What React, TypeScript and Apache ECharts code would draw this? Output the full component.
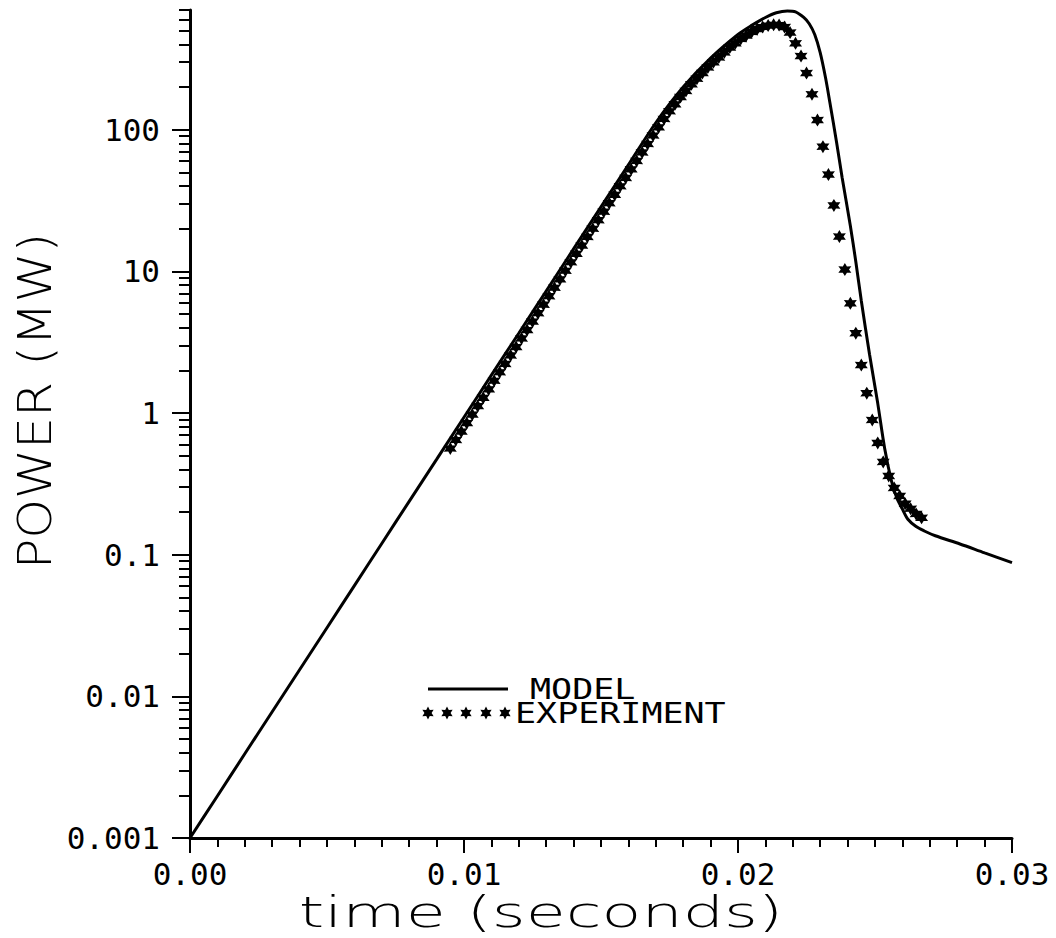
import React, { useEffect, useRef } from "react";
import * as echarts from "echarts";

// ---- data ----
const modelTime = [
  0, 0.001, 0.002, 0.003, 0.004, 0.005, 0.006, 0.007, 0.008, 0.009, 0.01, 0.011, 0.012, 0.013, 0.014,
  0.015, 0.016, 0.017, 0.018, 0.019, 0.02, 0.0205, 0.021, 0.0214, 0.0218, 0.0221, 0.0224, 0.0226,
  0.0228, 0.023, 0.0232, 0.02335, 0.0236, 0.0238, 0.0241, 0.0243, 0.0245, 0.0248, 0.0251, 0.02535,
  0.0256, 0.0258, 0.026, 0.0262, 0.0265, 0.0268, 0.0272, 0.0281, 0.029, 0.03,
];
const modelPower = [
  0.001, 0.00198, 0.00393, 0.00778, 0.0154, 0.0305, 0.0605, 0.12, 0.238, 0.471, 0.933, 1.85, 3.66,
  7.26, 14.4, 28.5, 56.5, 112, 200, 320, 470, 545, 620, 670, 690, 680, 620, 560, 470, 350, 230, 157,
  81, 46, 21, 11.7, 6.2, 2.6, 1.17, 0.567, 0.332, 0.25, 0.21, 0.178, 0.158, 0.147, 0.136, 0.119,
  0.103, 0.088,
];

const expTime = [
  0.0095, 0.0097, 0.0099, 0.0101, 0.0103, 0.0105, 0.0107, 0.0109, 0.0111, 0.0113, 0.0115, 0.0117,
  0.0119, 0.0121, 0.0123, 0.0125, 0.0127, 0.0129, 0.0131, 0.0133, 0.0135, 0.0137, 0.0139, 0.0141,
  0.0143, 0.0145, 0.0147, 0.0149, 0.0151, 0.0153, 0.0155, 0.0157, 0.0159, 0.0161, 0.0163, 0.0165,
  0.0167, 0.0169, 0.0171, 0.0173, 0.0175, 0.0177, 0.0179, 0.0181, 0.0183, 0.0185, 0.0187, 0.0189,
  0.0191, 0.0193, 0.0195, 0.0197, 0.0199, 0.0201, 0.0203, 0.0205, 0.0207, 0.0209, 0.0211, 0.0213,
  0.0215, 0.0217, 0.0219, 0.0221, 0.0223, 0.0225, 0.0227, 0.0229, 0.0231, 0.0233, 0.0235, 0.0237,
  0.0239, 0.0241, 0.0243, 0.0245, 0.0247, 0.0249, 0.0251, 0.0253, 0.0255, 0.0257, 0.0259, 0.0261,
  0.0263, 0.0265, 0.0267,
];
const expPower = [
  0.562, 0.645, 0.74, 0.849, 0.975, 1.12, 1.28, 1.47, 1.69, 1.94,
  2.22, 2.55, 2.92, 3.36, 3.85, 4.42, 5.07, 5.82, 6.68, 7.66,
  8.79, 10.1, 11.6, 13.3, 15.2, 17.5, 20.0, 23.0, 26.4, 30.3,
  34.7, 39.9, 45.7, 52.5, 60.2, 69.1, 79.3, 91.0, 104, 119,
  135, 151, 170, 188, 209, 229, 251, 275, 299, 324,
  351, 380, 407, 437, 462, 490, 513, 531, 543, 550,
  548, 530, 485, 407, 331, 251, 178, 117, 75.9, 48.2,
  29.2, 17.6, 10.3, 5.95, 3.66, 2.18, 1.38, 0.893, 0.615, 0.452,
  0.36, 0.296, 0.26, 0.229, 0.211, 0.194, 0.182,
];

const xTickLabels = ["0.00", "0.01", "0.02", "0.03"];
const yMajorTicks = [0.001, 0.01, 0.1, 1, 10, 100];
const yTickLabels = ["0.001", "0.01", "0.1", "1", "10", "100"];
const yMinorTicks: number[] = [];
for (const dec of yMajorTicks) {
  for (let d = 2; d <= 9; d++) {
    const v = Number((d * dec).toPrecision(3));
    if (v <= 700) yMinorTicks.push(v);
  }
}

const STAR =
  "path://M10 0 L12.75 5.24 L18.66 5 L15.5 10 L18.66 15 L12.75 14.76 L10 20 L7.25 14.76 L1.34 15 L4.5 10 L1.34 5 L7.25 5.24 Z";

function starPoints(cx: number, cy: number, r: number) {
  const pts: number[][] = [];
  for (let i = 0; i < 12; i++) {
    const a = -Math.PI / 2 + (i * Math.PI) / 6;
    const rr = i % 2 === 0 ? r : r * 0.55;
    pts.push([cx + rr * Math.cos(a), cy + rr * Math.sin(a)]);
  }
  return pts;
}

const MONO = '"DejaVu Sans Mono", monospace';

export default function App() {
  const ref = useRef<HTMLDivElement>(null);
  useEffect(() => {
    if (!ref.current) return;
    const chart = echarts.init(ref.current, undefined, { renderer: "svg" });
    const legendStars = [428, 447, 466, 486, 505].map((cx) => ({
      type: "polygon",
      shape: { points: starPoints(cx, 713, 6.5) },
      style: { fill: "#000" },
    }));
    const option: any = {
      animation: false,
      backgroundColor: "#fff",
      grid: { left: 190, right: 44, top: 10, bottom: 100, outerBoundsMode: "none", containLabel: false },
      xAxis: {
        type: "value",
        min: 0,
        max: 0.03,
        interval: 0.01,
        axisLine: { show: true, lineStyle: { color: "#000", width: 3 } },
        axisTick: { show: true, inside: false, length: 15, lineStyle: { color: "#000", width: 2 } },
        minorTick: { show: true, splitNumber: 10, length: 9, lineStyle: { color: "#000", width: 2 } },
        splitLine: { show: false },
        minorSplitLine: { show: false },
        axisLabel: {
          margin: 20,
          color: "#000",
          fontFamily: MONO,
          fontSize: 31,
          formatter: (v: number) => xTickLabels[Math.round(v / 0.01)] ?? v.toFixed(2),
        },
      },
      yAxis: [
        {
          type: "log",
          logBase: 10,
          min: 0.001,
          max: 700,
          position: "left",
          axisLine: { show: true, lineStyle: { color: "#000", width: 3 } },
          axisTick: { show: true, inside: false, length: 18, customValues: yMajorTicks, lineStyle: { color: "#000", width: 2 } },
          splitLine: { show: false },
          axisLabel: {
            customValues: yMajorTicks,
            margin: 30,
            color: "#000",
            fontFamily: MONO,
            fontSize: 31,
            formatter: (v: number) => {
              const i = yMajorTicks.findIndex((t) => Math.abs(Math.log10(t) - Math.log10(v)) < 1e-6);
              return i >= 0 ? yTickLabels[i] : "";
            },
          },
        },
        {
          type: "log",
          logBase: 10,
          min: 0.001,
          max: 700,
          position: "left",
          axisLine: { show: false },
          axisTick: { show: true, inside: false, length: 11, customValues: yMinorTicks, lineStyle: { color: "#000", width: 2 } },
          axisLabel: { show: false },
          splitLine: { show: false },
        },
      ],
      series: [
        {
          name: "EXPERIMENT",
          type: "scatter",
          symbol: STAR,
          symbolSize: 13,
          itemStyle: { color: "#000", opacity: 1 },
          data: expTime.map((t, i) => [t, expPower[i]]),
          z: 2,
        },
        {
          name: "MODEL",
          type: "line",
          showSymbol: false,
          smooth: 0.3,
          lineStyle: { color: "#000", width: 3 },
          itemStyle: { color: "#000" },
          data: modelTime.map((t, i) => [t, modelPower[i]]),
          z: 3,
        },
      ],
      graphic: [
        {
          type: "text",
          x: 35,
          y: 401,
          rotation: Math.PI / 2,
          scaleX: 1.1,
          style: {
            text: "POWER (MW)",
            fontFamily: '"DejaVu Sans", sans-serif',
            fontWeight: 200,
            fontSize: 46,
            fill: "#000",
            align: "center",
            verticalAlign: "middle",
            textAlign: "center",
            textVerticalAlign: "middle",
          },
        },
        {
          type: "text",
          x: 541,
          y: 912,
          scaleX: 1.55,
          style: {
            text: "time (seconds)",
            fontFamily: '"DejaVu Sans", sans-serif',
            fontWeight: 200,
            fontSize: 42,
            fill: "#000",
            align: "center",
            verticalAlign: "middle",
            textAlign: "center",
            textVerticalAlign: "middle",
          },
        },
        {
          type: "line",
          shape: { x1: 428, y1: 689, x2: 508, y2: 689 },
          style: { stroke: "#000", lineWidth: 3 },
        },
        {
          type: "text",
          x: 530,
          y: 689,
          scaleX: 1.25,
          style: {
            text: "MODEL",
            fontFamily: MONO,
            fontSize: 28,
            fill: "#000",
            align: "left",
            verticalAlign: "middle",
            textAlign: "left",
            textVerticalAlign: "middle",
          },
        },
        ...legendStars,
        {
          type: "text",
          x: 515,
          y: 713,
          scaleX: 1.25,
          style: {
            text: "EXPERIMENT",
            fontFamily: MONO,
            fontSize: 28,
            fill: "#000",
            align: "left",
            verticalAlign: "middle",
            textAlign: "left",
            textVerticalAlign: "middle",
          },
        },
      ],
    };
    chart.setOption(option);
    return () => chart.dispose();
  }, []);
  return (
    <div
      ref={ref}
      style={{ position: "absolute", left: 0, top: 0, width: 1056, height: 938, background: "#fff" }}
    />
  );
}
